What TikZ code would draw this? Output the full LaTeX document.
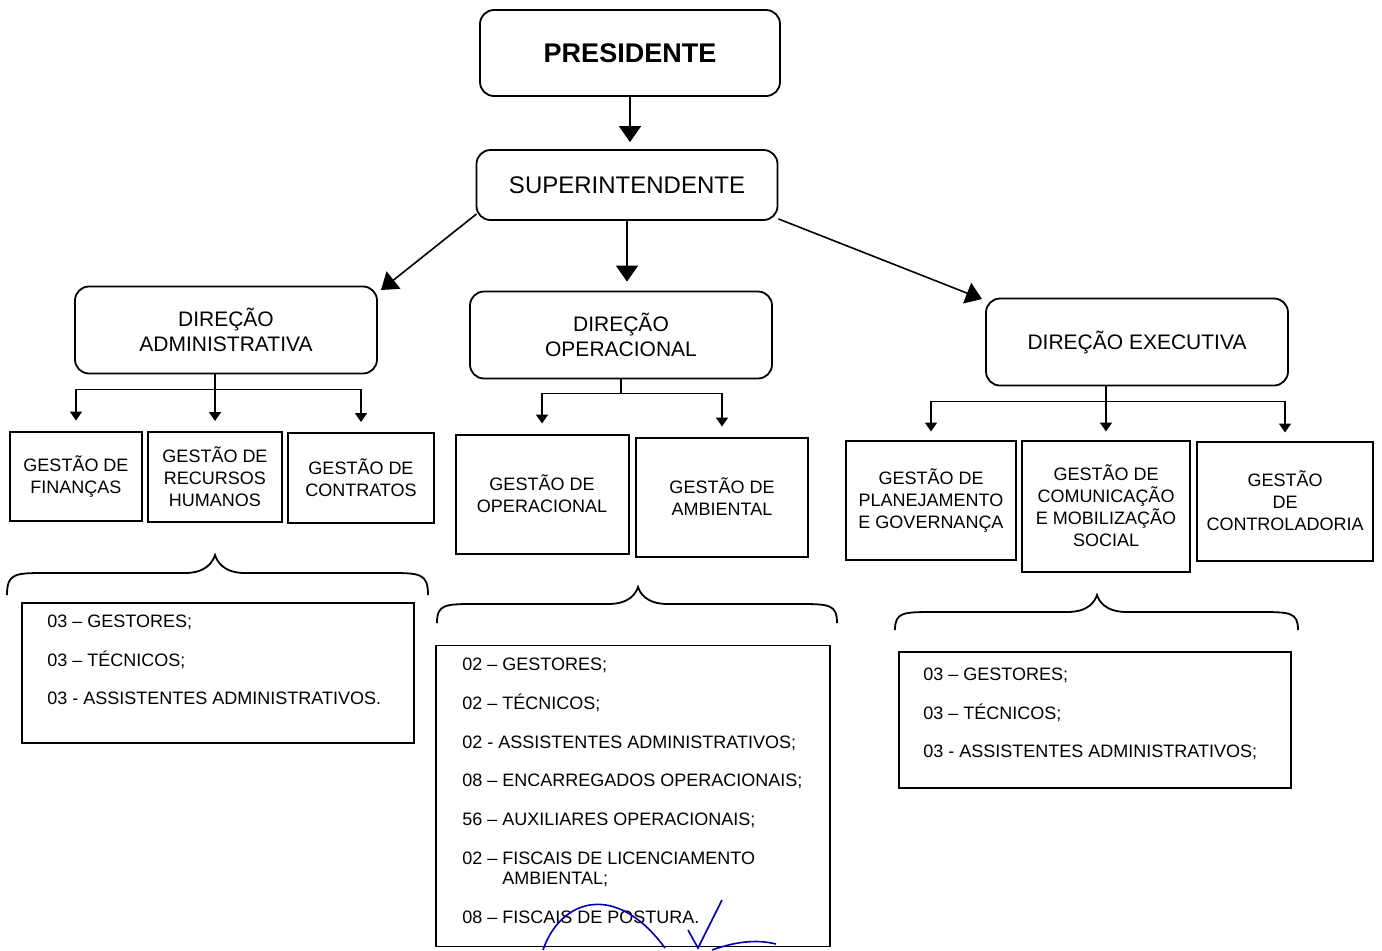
\documentclass[tikz,border=0pt]{standalone}
\usepackage{fontspec}
\setmainfont{Liberation Sans}
\usetikzlibrary{arrows.meta,calc}

\tikzset{
  topbox/.style={draw, rounded corners=7pt, line width=0.9pt, align=center, inner sep=0pt},
  dirbox/.style={topbox, minimum width=151pt, minimum height=43.5pt, font=\fontsize{10.5}{12.5}\selectfont},
  gestbox/.style={draw, line width=1pt, align=center, inner sep=0pt, font=\fontsize{9}{11}\selectfont},
  listbox/.style={draw, line width=0.9pt, inner sep=0pt},
  itemtext/.style={anchor=base west, inner sep=0pt, font=\fontsize{9}{10}\selectfont},
  bigarr/.style={line width=0.8pt, -{Triangle[width=11pt,length=8pt]}},
  smallarr/.style={line width=0.8pt, -{Triangle[width=6pt,length=4.5pt]}},
  bracestyle/.style={line width=0.9pt}
}

\begin{document}
\begin{tikzpicture}[x=0.5pt,y=-0.5pt]
\useasboundingbox (0,0) rectangle (1382,950);

% top of the chart
\node[topbox, minimum width=150pt, minimum height=43pt, font=\bfseries\fontsize{13.5}{15}\selectfont] (pres) at (630,53) {PRESIDENTE};
\node[topbox, minimum width=150.5pt, minimum height=35pt, font=\fontsize{12}{14}\selectfont] (super) at (627,185) {SUPERINTENDENTE};

% direcoes
\node[dirbox] (dadm) at (226,330) {DIREÇÃO\\ADMINISTRATIVA};
\node[dirbox] (dope) at (621,335) {DIREÇÃO\\OPERACIONAL};
\node[dirbox] (dexe) at (1137,342) {DIREÇÃO EXECUTIVA};

% gestoes
\node[gestbox, minimum width=66pt, minimum height=44.5pt] (gfin) at (76,476) {GESTÃO DE\\FINANÇAS};
\node[gestbox, minimum width=67pt, minimum height=45pt] (grh) at (215,477) {GESTÃO DE\\RECURSOS\\HUMANOS};
\node[gestbox, minimum width=73pt, minimum height=45pt] (gcon) at (361,478) {GESTÃO DE\\CONTRATOS};
\node[gestbox, minimum width=86.5pt, minimum height=59.5pt] (gope) at (542,494) {GESTÃO DE\\OPERACIONAL};
\node[gestbox, minimum width=86pt, minimum height=59.5pt] (gamb) at (722,497) {GESTÃO DE\\AMBIENTAL};
\node[gestbox, minimum width=85pt, minimum height=59.5pt] (gpla) at (931,500) {GESTÃO DE\\PLANEJAMENTO\\E GOVERNANÇA};
\node[gestbox, minimum width=84pt, minimum height=65.5pt] (gcom) at (1106,506) {GESTÃO DE\\COMUNICAÇÃO\\E MOBILIZAÇÃO\\SOCIAL};
\node[gestbox, minimum width=88pt, minimum height=59.5pt] (gctl) at (1285,501) {GESTÃO\\DE\\CONTROLADORIA};

% arrows
\draw[bigarr, shorten >=3.5pt] (pres.south) -- (pres.south |- super.north);
\draw[bigarr, shorten >=4.5pt] (super.south) -- (super.south |- dope.north);
\coordinate (adm-tip) at (381,290);
\coordinate (exe-tip) at (982,299);
\draw[bigarr] ([shift={(1,-7)}]super.south west) -- (adm-tip);
\draw[bigarr] ([shift={(0,-2)}]super.south east) -- (exe-tip);

% trees below the direcoes
\draw[line width=0.8pt] (dadm.south -| grh.north) -- ++(0,15) coordinate (adm-bus);
\draw[line width=0.8pt] (adm-bus -| gfin.north) -- (adm-bus -| gcon.north);
\foreach \g in {gfin,grh,gcon}
  \draw[smallarr, shorten >=5pt] (adm-bus -| \g.north) -- (\g.north);

\draw[line width=0.8pt] (dope.south) -- ++(0,14) coordinate (ope-bus);
\draw[line width=0.8pt] (ope-bus -| gope.north) -- (ope-bus -| gamb.north);
\foreach \g in {gope,gamb}
  \draw[smallarr, shorten >=5pt] (ope-bus -| \g.north) -- (\g.north);

\draw[line width=0.8pt] (dexe.south -| gcom.north) -- ++(0,15) coordinate (exe-bus);
\draw[line width=0.8pt] (exe-bus -| gpla.north) -- (exe-bus -| gctl.north);
\foreach \g in {gpla,gcom,gctl}
  \draw[smallarr, shorten >=4pt] (exe-bus -| \g.north) -- (\g.north);

% braces
\foreach \xa/\xt/\xb/\yt/\yf/\ye in {7/215/428/555/573/595, 437/638/837/587/604/623, 895/1097/1298/595/612/630}
  \draw[bracestyle] (\xa,\ye) .. controls (\xa,\yf) and (\xa+8,\yf) .. (\xa+40,\yf)
    -- (\xt-30,\yf) .. controls (\xt-8,\yf) and (\xt-2,\yt+6) .. (\xt,\yt)
    .. controls (\xt+2,\yt+6) and (\xt+8,\yf) .. (\xt+30,\yf)
    -- (\xb-40,\yf) .. controls (\xb-8,\yf) and (\xb,\yf) .. (\xb,\ye);

% staff lists
\node[listbox, minimum width=196pt, minimum height=70pt] (ladm) at (218,673) {};
\node[listbox, minimum width=197pt, minimum height=150.5pt] (lope) at (633,796) {};
\node[listbox, minimum width=196pt, minimum height=68pt] (lexe) at (1095,720) {};

\foreach \y/\lbl [count=\i] in {627/{03 -- GESTORES;}, 666/{03 -- TÉCNICOS;}, 704/{03 - ASSISTENTES ADMINISTRATIVOS.}}
  \node[itemtext] (ladm-\i) at (47,\y) {\lbl};
\foreach \y/\lbl [count=\i] in {670/{02 -- GESTORES;}, 709/{02 -- TÉCNICOS;}, 748/{02 - ASSISTENTES ADMINISTRATIVOS;},
    786/{08 -- ENCARREGADOS OPERACIONAIS;}, 825/{56 -- AUXILIARES OPERACIONAIS;}, 864/{02 -- FISCAIS DE LICENCIAMENTO},
    884/{\phantom{02 -- }AMBIENTAL;}, 923/{08 -- FISCAIS DE POSTURA.}}
  \node[itemtext] (lope-\i) at (462,\y) {\lbl};
\foreach \y/\lbl [count=\i] in {680/{03 -- GESTORES;}, 719/{03 -- TÉCNICOS;}, 757/{03 - ASSISTENTES ADMINISTRATIVOS;}}
  \node[itemtext] (lexe-\i) at (923,\y) {\lbl};

% handwritten initials
\draw[blue!70!black, line width=0.8pt] (543,950) .. controls (560,900) and (615,880) .. (665,948);
\draw[blue!70!black, line width=0.8pt] (688,930) -- (698,948) -- (722,900);
\draw[blue!70!black, line width=0.8pt] (712,950) .. controls (740,940) and (760,940) .. (776,944);
\end{tikzpicture}
\end{document}
